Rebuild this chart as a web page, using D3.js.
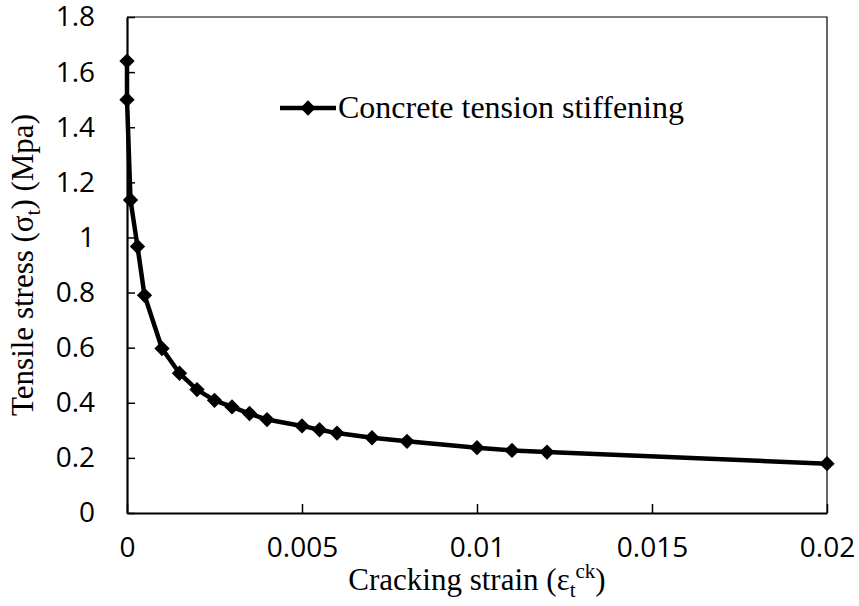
<!DOCTYPE html>
<html>
<head>
<meta charset="utf-8">
<script src="https://cdn.jsdelivr.net/npm/d3@7"></script>
<style>
  body { margin: 0; background: #fff; }
  .tick text { font-family: "Open Sans", sans-serif; font-size: 28px; fill: #000; }
  .serif { font-family: "Liberation Serif", "Times New Roman", serif; fill: #000; }
</style>
</head>
<body>
<div id="chart"></div>
<script>
// Data
const strain = [0, 0, 0.0001, 0.0003, 0.0005, 0.001, 0.0015, 0.002, 0.0025, 0.003,
                0.0035, 0.004, 0.005, 0.0055, 0.006, 0.007, 0.008, 0.01, 0.011, 0.012, 0.02];
const stress = [1.64, 1.5, 1.136, 0.967, 0.79, 0.597, 0.507, 0.448, 0.409, 0.385,
                0.361, 0.339, 0.316, 0.302, 0.29, 0.273, 0.26, 0.237, 0.227, 0.221, 0.179];
const xTicks = [0, 0.005, 0.01, 0.015, 0.02];
const xTickLabels = ["0", "0.005", "0.01", "0.015", "0.02"];
const yTicks = [0, 0.2, 0.4, 0.6, 0.8, 1, 1.2, 1.4, 1.6, 1.8];
const yTickLabels = ["0", "0.2", "0.4", "0.6", "0.8", "1", "1.2", "1.4", "1.6", "1.8"];
const seriesName = "Concrete tension stiffening";

const data = strain.map((s, i) => ({ x: s, y: stress[i] }));

const W = 859, H = 606;
const margin = { top: 17, right: 32, bottom: 93, left: 127 };
const width = W - margin.left - margin.right,
      height = H - margin.top - margin.bottom;

const svg = d3.select("#chart").append("svg")
    .attr("width", W)
    .attr("height", H);

const g = svg.append("g")
    .attr("transform", `translate(${margin.left},${margin.top})`);

const x = d3.scaleLinear().domain([0, 0.02]).range([0, width]);
const y = d3.scaleLinear().domain([0, 1.8]).range([height, 0]);

// Frame (top and right)
g.append("path")
    .attr("d", `M0,0H${width}V${height}`)
    .attr("fill", "none")
    .attr("stroke", "#000")
    .attr("stroke-width", 1.2);

// Axes with inside ticks
const xAxis = d3.axisBottom(x)
    .tickValues(xTicks)
    .tickFormat((d, i) => xTickLabels[i])
    .tickSizeInner(-9)
    .tickSizeOuter(0)
    .tickPadding(24);

const yAxis = d3.axisLeft(y)
    .tickValues(yTicks)
    .tickFormat((d, i) => yTickLabels[i])
    .tickSizeInner(-8)
    .tickSizeOuter(0)
    .tickPadding(32);

g.append("g")
    .attr("transform", `translate(0,${height})`)
    .call(xAxis)
    .call(a => a.select(".domain").attr("stroke-width", 2.2))
    .call(a => a.selectAll(".tick line").attr("stroke-width", 1.5));

g.append("g")
    .call(yAxis)
    .call(a => a.select(".domain").attr("stroke-width", 2.2))
    .call(a => a.selectAll(".tick line").attr("stroke-width", 1.5));

// Series line
const line = d3.line().x(d => x(d.x)).y(d => y(d.y));

g.append("path")
    .datum(data)
    .attr("fill", "none")
    .attr("stroke", "#000")
    .attr("stroke-width", 4.5)
    .attr("stroke-linejoin", "round")
    .attr("d", line);

const diamond = d3.symbol().type(d3.symbolDiamond2).size(150);

g.selectAll(".pt")
    .data(data)
    .enter().append("path")
    .attr("class", "pt")
    .attr("transform", d => `translate(${x(d.x)},${y(d.y)})`)
    .attr("d", diamond)
    .attr("fill", "#000");

// Legend
const leg = svg.append("g").attr("transform", "translate(280,108)");
leg.append("line")
    .attr("x1", 0).attr("x2", 56)
    .attr("stroke", "#000").attr("stroke-width", 4.5);
leg.append("path")
    .attr("transform", "translate(28,0)")
    .attr("d", d3.symbol().type(d3.symbolDiamond2).size(150))
    .attr("fill", "#000");
leg.append("text")
    .attr("class", "serif")
    .attr("x", 58).attr("y", 10)
    .style("font-size", "32px")
    .text(seriesName);

// X axis title
const xt = svg.append("text")
    .attr("class", "serif")
    .attr("x", margin.left + width / 2)
    .attr("y", 590)
    .attr("text-anchor", "middle")
    .style("font-size", "31px");
xt.append("tspan").text("Cracking strain (\u03b5");
xt.append("tspan").attr("dy", 7).style("font-size", "21px").text("t");
xt.append("tspan").attr("dy", -19).style("font-size", "21px").text("ck");
xt.append("tspan").attr("dy", 12).text(")");

// Y axis title
const yt = svg.append("text")
    .attr("class", "serif")
    .attr("transform", `translate(33,${margin.top + height / 2}) rotate(-90)`)
    .attr("text-anchor", "middle")
    .style("font-size", "31px");
yt.append("tspan").text("Tensile stress (\u03c3");
yt.append("tspan").attr("dy", 7).style("font-size", "21px").text("t");
yt.append("tspan").attr("dy", -7).text(") (Mpa)");
</script>
</body>
</html>
